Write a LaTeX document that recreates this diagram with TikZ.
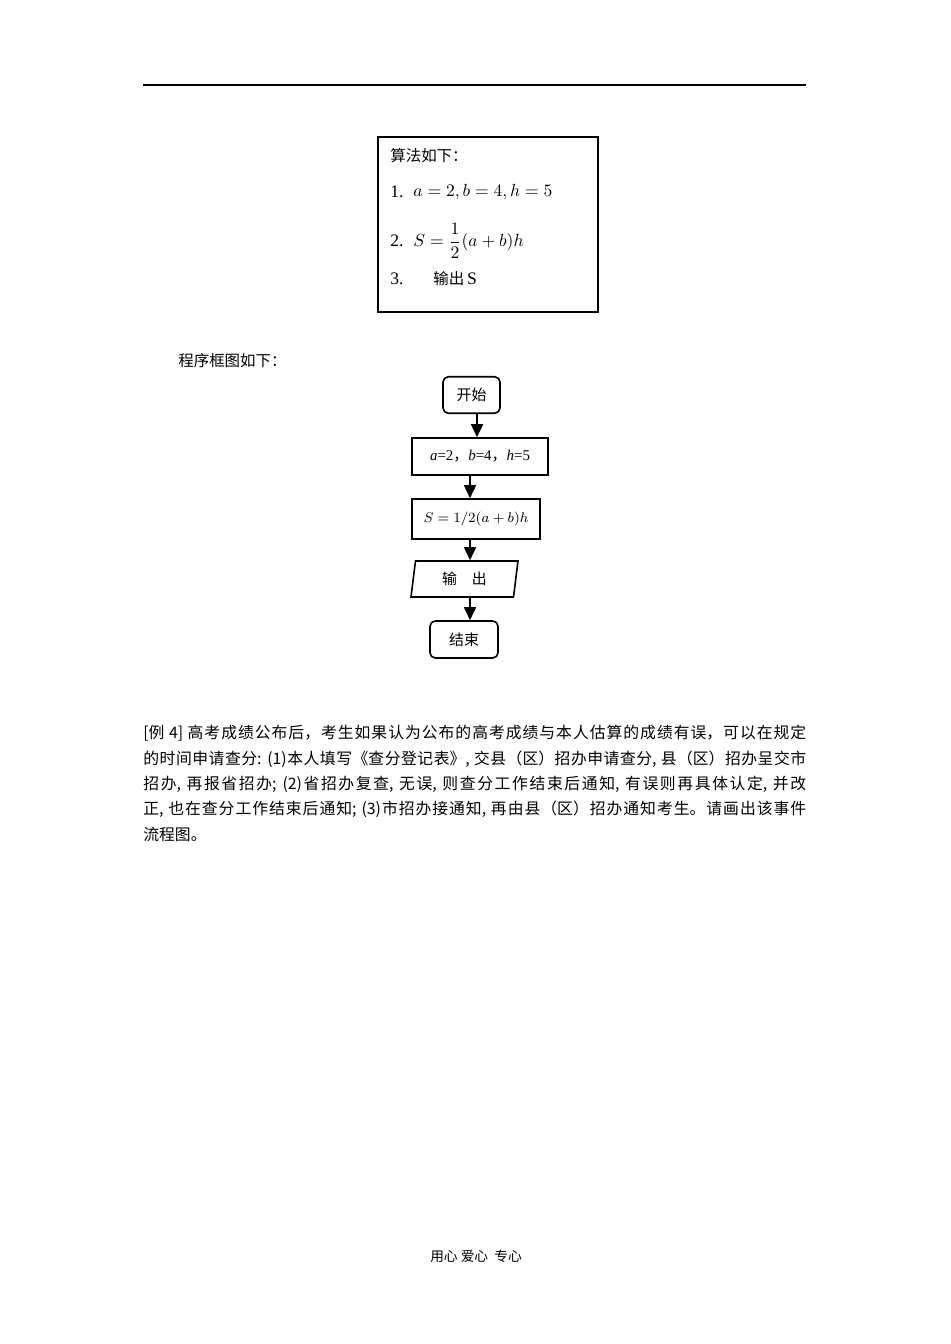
\documentclass[tikz,border=0pt]{standalone}
\usepackage{amsmath}
\usepackage{fontspec}
\setmainfont{Liberation Serif}
\newfontfamily\cjk{Noto Sans CJK SC}
\usepackage{tikz}
\usetikzlibrary{positioning,arrows.meta,shapes.geometric}
\XeTeXlinebreaklocale "zh"
\XeTeXlinebreakskip=0pt plus 1pt
\tikzset{
  rule/.style={line width=0.6pt},
  algframe/.style={rectangle,draw=black,line width=0.8pt,minimum width=4.4cm,minimum height=3.5cm,inner sep=0pt},
  algline/.style={anchor=west,inner sep=0pt,font=\fontsize{10}{12}\selectfont},
  terminal/.style={rectangle,rounded corners=3pt,draw=black,line width=0.9pt,minimum height=0.73cm,inner sep=0pt,font=\cjk\fontsize{8.5}{10}\selectfont},
  process/.style={rectangle,draw=black,line width=0.9pt,inner sep=0pt,font=\fontsize{8.5}{10}\selectfont},
  inout/.style={trapezium,trapezium left angle=72,trapezium right angle=108,trapezium stretches body,draw=black,line width=0.9pt,minimum width=2.14cm,minimum height=0.72cm,inner sep=0pt,font=\cjk\fontsize{8.5}{10}\selectfont},
  flowarrow/.style={-{Triangle[length=2.6mm,width=2.4mm]},line width=0.9pt},
  bodytext/.style={anchor=north west,inner sep=0pt,align=justify,text width=13.26cm,font=\cjk\fontsize{9}{14.46}\selectfont}
}
\begin{document}
\begin{tikzpicture}[x=0.02cm,y=-0.02cm]
  \useasboundingbox (0,0) rectangle (950,1344);
  \draw[rule] (143,85) -- (806,85);

  \node[algframe] (alg) at (488,224.5) {};
  \node[algline,font=\cjk\fontsize{8.8}{10}\selectfont] (algtitle) at (390,156) {算法如下：};
  \node[algline] (numone) at (390,192) {1.};
  \node[algline] (stepone) at (413,192) {$a=2,b=4,h=5$};
  \node[algline] (numtwo) at (390,241) {2.};
  \node[algline] (steptwo) at (413,241) {$S=\dfrac{1}{2}(a+b)h$};
  \node[algline] (numthree) at (390,279) {3.};
  \node[algline] (stepthree) at (433,279) {{\cjk\fontsize{8.8}{10}\selectfont 输出}\,S};

  \node[anchor=west,inner sep=0pt,font=\cjk\fontsize{8.8}{10}\selectfont] (flowtitle) at (178,361) {程序框图如下：};

  \node[terminal,minimum width=1.14cm] (start) at (471.5,395) {开始};
  \node[process,minimum width=2.72cm,minimum height=0.74cm] (init) at (480,456.5) {\textit{a}=2{\cjk ，}\textit{b}=4{\cjk ，}\textit{h}=5};
  \node[process,minimum width=2.56cm,minimum height=0.8cm] (calc) at (476,519) {$S=1/2(a+b)h$};
  \node[inout] (output) at (464.5,579) {输\hspace{1em}出};
  \node[terminal,minimum width=1.36cm,minimum height=0.74cm] (stop) at (464,639.5) {结束};

  \draw[flowarrow] ([xshift=0.11cm]start.south) -- ([xshift=0.11cm]start.south |- init.north);
  \draw[flowarrow] ([xshift=-0.2cm]init.south) -- ([xshift=-0.2cm]init.south |- calc.north);
  \draw[flowarrow] ([xshift=-0.12cm]calc.south) -- ([xshift=-0.12cm]calc.south |- output.north);
  \draw[flowarrow] ([xshift=0.11cm]output.south) -- ([xshift=0.11cm]output.south |- stop.north);

  \node[bodytext] (example) at (143,725) {\tolerance=10000
    [例 4] 高考成绩公布后，考生如果认为公布的高考成绩与本人估算的成绩有误，可以在规定\linebreak
    的时间申请查分: (1)本人填写《查分登记表》, 交县（区）招办申请查分, 县（区）招办呈交市\linebreak
    招办, 再报省招办; (2)省招办复查, 无误, 则查分工作结束后通知, 有误则再具体认定, 并改\linebreak
    正, 也在查分工作结束后通知; (3)市招办接通知, 再由县（区）招办通知考生。请画出该事件\linebreak
    流程图。};

  \node[inner sep=0pt,font=\cjk\fontsize{7.8}{10}\selectfont] (footer) at (476,1256) {用心\ 爱心\ \ 专心};
\end{tikzpicture}
\end{document}
